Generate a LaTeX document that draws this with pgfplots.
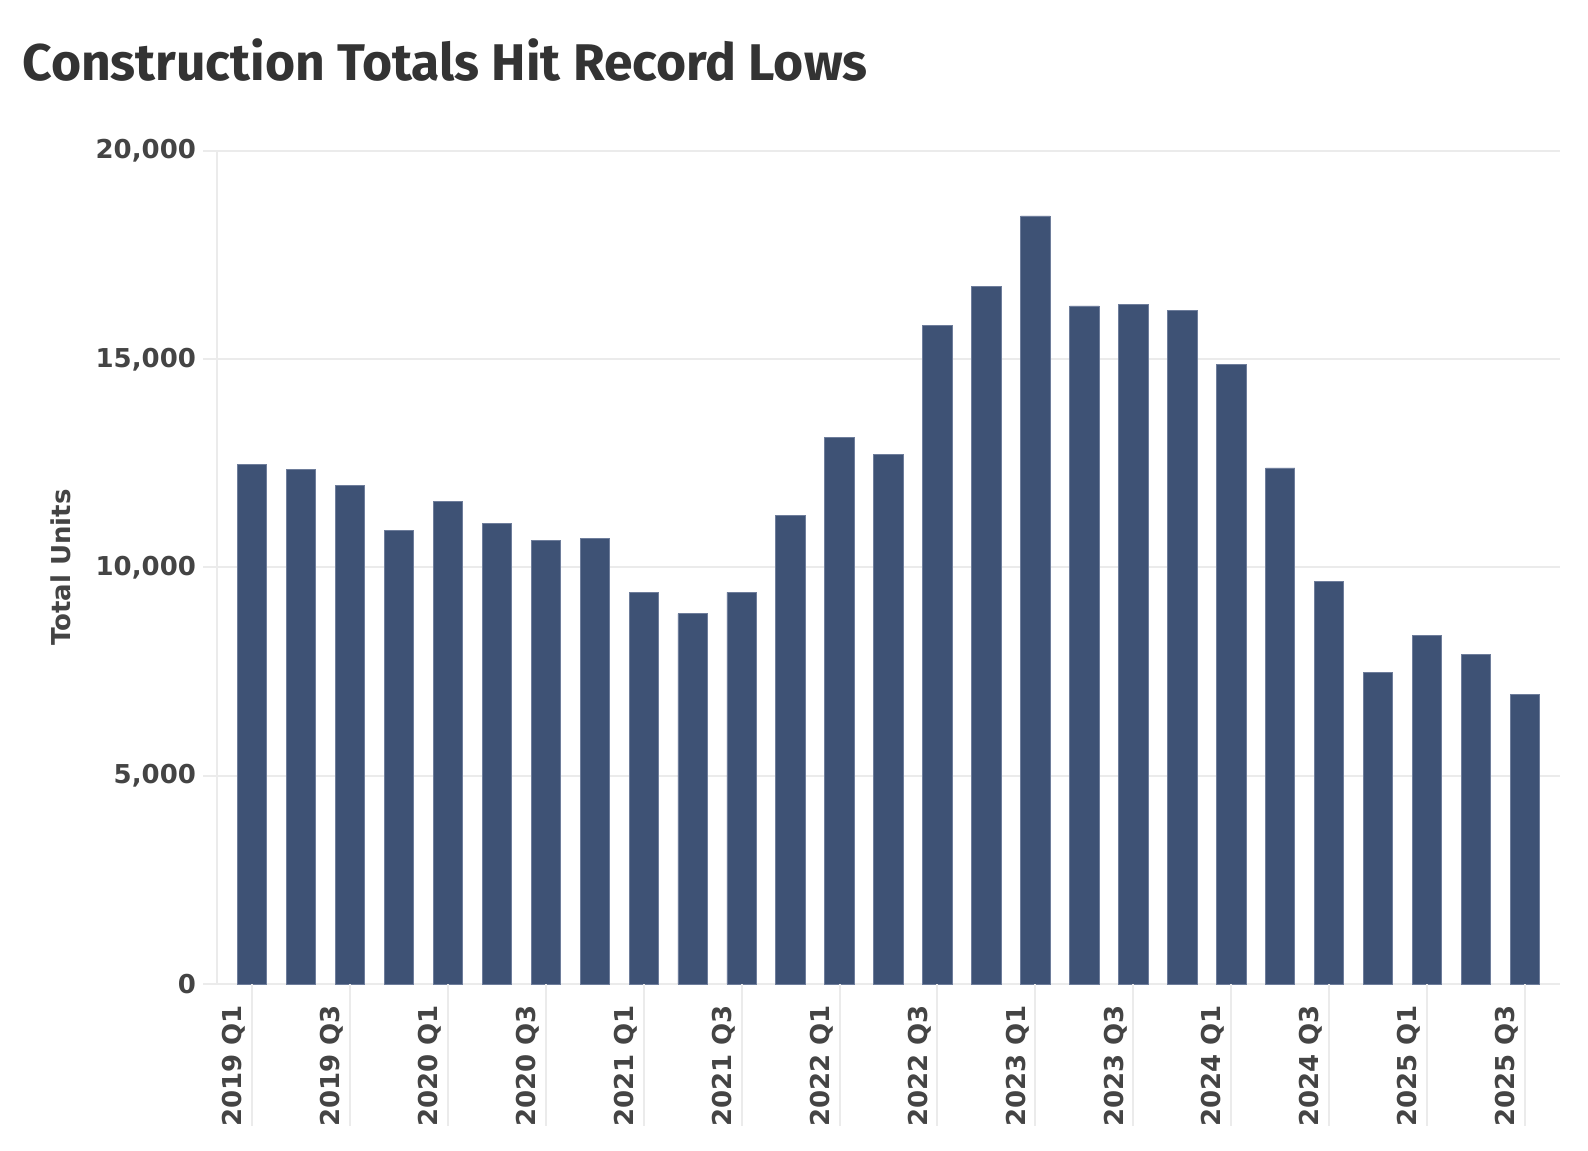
\documentclass[border=0pt]{standalone}
\usepackage{fontspec}
\usepackage{pgfplots}
\usepackage{pgfplotstable}
\pgfplotsset{compat=1.18}
\setmainfont{DejaVu Sans}
\newfontfamily\titlefont{Fira Sans}
\definecolor{barc}{RGB}{62,82,117}
\definecolor{barline}{RGB}{110,125,155}
\definecolor{gridc}{RGB}{235,235,235}
\definecolor{txt}{RGB}{68,68,68}
\definecolor{ttl}{RGB}{51,51,51}

\pgfplotstableread{
x y
0 12470
1 12350
2 11960
3 10890
4 11590
5 11060
6 10640
7 10690
8 9400
9 8890
10 9400
11 11250
12 13120
13 12710
14 15820
15 16740
16 18440
17 16280
18 16310
19 16180
20 14870
21 12390
22 9670
23 7480
24 8360
25 7920
26 6950
}\datatable

\begin{document}
\begin{tikzpicture}
\useasboundingbox (-108.5pt,-83pt) rectangle (685.5pt,492pt);
\node[anchor=base west, inner sep=0pt, text=ttl, font=\titlefont\bfseries\fontsize{25.8}{30}\selectfont] at (-97.5pt,451.5pt) {Construction Totals Hit Record Lows};
\begin{axis}[
  at={(0,0)}, anchor=south west,
  scale only axis, width=671.5pt, height=416.5pt,
  xmin=-0.715, xmax=26.715, ymin=0, ymax=20000,
  axis x line=bottom, axis y line=left,
  axis line style={-, draw=gridc, line width=1pt},
  clip=false,
  ybar, bar width=0.6,
  ytick={0,5000,10000,15000,20000},
  scaled y ticks=false,
  /pgf/number format/1000 sep={,},
  /pgf/number format/assume math mode=true,
  xtick={0,2,...,26},
  xticklabels={2019 Q1,2019 Q3,2020 Q1,2020 Q3,2021 Q1,2021 Q3,2022 Q1,2022 Q3,2023 Q1,2023 Q3,2024 Q1,2024 Q3,2025 Q1,2025 Q3},
  ymajorgrids, major grid style={gridc, line width=1pt},
  tick align=outside, major tick length=7pt,
  ytick style={gridc, line width=1pt},
  xtick style={draw=none},
  tick label style={font=\bfseries\fontsize{13}{15}\selectfont, text=txt},
  xticklabel style={xshift=-9pt, rotate=90, anchor=east},
  ylabel={Total Units},
  every axis y label/.style={at={(axis description cs:-0.1162,0.5)}, rotate=90, anchor=center, font=\bfseries\fontsize{13}{15}\selectfont, text=txt},
]
\addplot[fill=barc, draw=barline, line width=0.4pt] table[x=x, y=y] {\datatable};
\pgfplotsinvokeforeach{0,2,...,26}{\draw[gridc, line width=1pt] (axis cs:#1,0) -- ++(0pt,-71pt);}
\end{axis}
\end{tikzpicture}
\end{document}
